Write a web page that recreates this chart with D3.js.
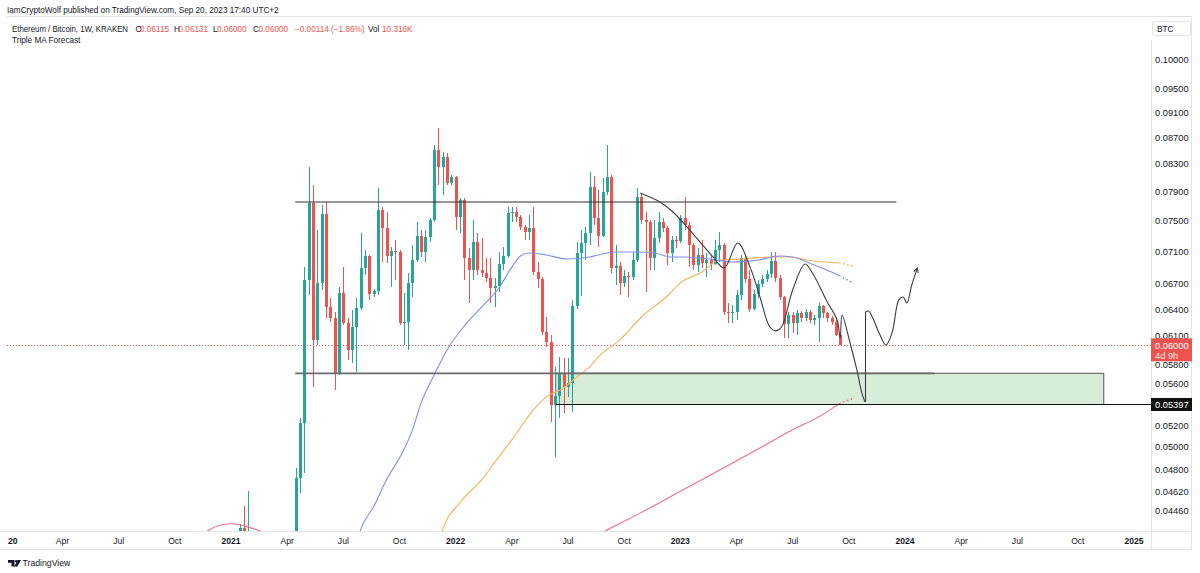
<!DOCTYPE html>
<html><head><meta charset="utf-8">
<script src="https://cdn.jsdelivr.net/npm/d3@7"></script>
<style>
html,body{margin:0;padding:0;background:#fff;}
svg{display:block;font-family:"Liberation Sans",Arial,sans-serif;}
</style></head><body>
<svg id="chart" width="1200" height="573"></svg>
<script>
// ---------------- DATA ----------------
const firstWeek = "2021-01-18"; // weekly candles (Monday open), consecutive
const openP = [
0.0395,0.0433,0.0402,0.0420,0.0395,0.0352,0.0320,0.0330,0.0310,0.0305,
0.0300,0.0350,0.0355,0.0370,0.04732,0.05222,0.06745,0.07741,0.06058,0.06709,
0.07590,0.06426,0.06300,0.05710,0.06589,0.06245,0.05951,0.06200,0.06415,0.06890,
0.07041,0.06578,0.06613,0.07645,0.07401,0.07041,0.07104,0.07092,0.06245,0.06257,
0.06709,0.06990,0.07297,0.07092,0.07284,0.07509,0.08512,0.08256,0.08405,0.08024,
0.08110,0.07549,0.07783,0.07015,0.06866,0.07219,0.06866,0.06829,0.06768,0.06648,
0.06672,0.06940,0.07041,0.07604,0.07618,0.07549,0.07415,0.07350,0.07401,0.06841,
0.06755,0.06146,0.06036,0.05392,0.05481,0.05710,0.05569,0.05610,0.06438,0.07079,
0.07206,0.07336,0.07966,0.07536,0.07297,0.07896,0.08110,0.06890,0.06915,0.06709,
0.06792,0.06781,0.06990,0.07820,0.07509,0.07482,0.07015,0.07270,0.07482,0.07401,
0.07079,0.07245,0.07232,0.07536,0.07442,0.07180,0.06927,0.07053,0.06952,0.06990,
0.06940,0.07117,0.07180,0.06369,0.06358,0.06369,0.06566,0.07015,0.06755,0.06403,
0.06578,0.06697,0.06755,0.06817,0.06977,0.06768,0.06542,0.06234,0.06335,0.06245,
0.06358,0.06300,0.06369,0.06279,0.06300,0.06438,0.06358,0.06300,0.06257,0.06115];
const highP = [
0.0436,0.0450,0.0462,0.0428,0.0405,0.0365,0.0345,0.0340,0.0325,0.0315,
0.0360,0.0360,0.0375,0.04818,0.05269,0.06902,0.08256,0.07995,0.07376,0.07713,
0.07755,0.06530,0.06369,0.06660,0.06902,0.06300,0.06392,0.06530,0.07336,0.07117,
0.07053,0.06636,0.07951,0.07685,0.07618,0.07154,0.07245,0.07117,0.06589,0.06829,
0.07180,0.07482,0.07376,0.07376,0.07536,0.08588,0.08854,0.08482,0.08466,0.08139,
0.08125,0.07811,0.07811,0.07141,0.07509,0.07336,0.07270,0.07015,0.07015,0.06768,
0.07092,0.07154,0.07685,0.07685,0.07685,0.07577,0.07442,0.07577,0.07685,0.06965,
0.06781,0.06312,0.06113,0.05772,0.05876,0.05865,0.05865,0.06508,0.07219,0.07376,
0.07415,0.08184,0.08125,0.07924,0.08095,0.08588,0.08139,0.07180,0.06965,0.06866,
0.06841,0.07092,0.07951,0.07881,0.07618,0.07509,0.07509,0.07618,0.07536,0.07428,
0.07297,0.07297,0.07577,0.07825,0.07482,0.07206,0.07141,0.07245,0.07079,0.07053,
0.07245,0.07350,0.07206,0.06473,0.06450,0.06625,0.07053,0.07041,0.06866,0.06625,
0.06745,0.06805,0.06866,0.07092,0.07092,0.06805,0.06554,0.06369,0.06369,0.06392,
0.06381,0.06403,0.06392,0.06335,0.06473,0.06450,0.06369,0.06324,0.06279,0.06131];
const lowP = [
0.0375,0.0395,0.0398,0.0375,0.0345,0.0310,0.0300,0.0300,0.0300,0.0295,
0.0298,0.0335,0.0340,0.0365,0.04607,0.04775,0.06566,0.05569,0.06004,0.06625,
0.06300,0.06257,0.05540,0.05690,0.06223,0.05845,0.05814,0.05720,0.06392,0.06805,
0.06508,0.06542,0.06566,0.06965,0.06952,0.06660,0.06745,0.06223,0.06004,0.05951,
0.06542,0.06965,0.07028,0.06965,0.07219,0.07482,0.07995,0.07853,0.07995,0.07995,
0.07376,0.07336,0.06745,0.06473,0.06745,0.06805,0.06781,0.06721,0.06473,0.06426,
0.06601,0.06866,0.07015,0.07482,0.07482,0.07376,0.07245,0.07245,0.06805,0.06648,
0.06113,0.05982,0.05231,0.04914,0.05268,0.05316,0.05471,0.05326,0.06400,0.06554,
0.06990,0.07180,0.07442,0.07154,0.07284,0.07853,0.06829,0.06685,0.06566,0.06660,
0.06542,0.06745,0.06965,0.07455,0.06601,0.06866,0.06866,0.07206,0.07350,0.06927,
0.06965,0.07141,0.07206,0.07376,0.06902,0.06866,0.06841,0.06890,0.06781,0.06866,
0.06927,0.06965,0.06335,0.06245,0.06245,0.06279,0.06508,0.06709,0.06369,0.06392,
0.06530,0.06660,0.06721,0.06768,0.06721,0.06508,0.06080,0.06080,0.06135,0.06113,
0.06257,0.06268,0.06245,0.06223,0.06036,0.06300,0.06257,0.06223,0.06102,0.06000];
const closeP = [
0.0433,0.0402,0.0420,0.0395,0.0352,0.0320,0.0330,0.0310,0.0305,0.0300,
0.0350,0.0355,0.0370,0.04732,0.05222,0.06745,0.07741,0.06058,0.06709,0.07590,
0.06426,0.06300,0.05710,0.06589,0.06245,0.05951,0.06200,0.06415,0.06890,0.07041,
0.06578,0.06613,0.07645,0.07401,0.07041,0.07104,0.07092,0.06245,0.06257,0.06709,
0.06990,0.07297,0.07092,0.07284,0.07509,0.08512,0.08256,0.08405,0.08024,0.08110,
0.07549,0.07783,0.07015,0.06866,0.07219,0.06866,0.06829,0.06768,0.06648,0.06672,
0.06940,0.07041,0.07604,0.07618,0.07549,0.07415,0.07350,0.07401,0.06841,0.06755,
0.06146,0.06036,0.05392,0.05481,0.05710,0.05569,0.05610,0.06438,0.07079,0.07206,
0.07336,0.07966,0.07536,0.07297,0.07896,0.08110,0.06890,0.06915,0.06709,0.06792,
0.06781,0.06990,0.07820,0.07509,0.07482,0.07015,0.07270,0.07482,0.07401,0.07079,
0.07245,0.07232,0.07536,0.07442,0.07180,0.06927,0.07053,0.06952,0.06990,0.06940,
0.07117,0.07180,0.06369,0.06358,0.06369,0.06566,0.07015,0.06755,0.06403,0.06578,
0.06697,0.06755,0.06817,0.06977,0.06768,0.06542,0.06234,0.06335,0.06245,0.06358,
0.06300,0.06369,0.06279,0.06300,0.06438,0.06358,0.06300,0.06257,0.06115,0.06000];

// moving averages
const maBlue = [["2021-07-26",0.04197],["2021-08-02",0.04312],["2021-08-23",0.04493],["2021-09-13",0.04716],["2021-10-11",0.04976],["2021-10-25",0.05157],["2021-11-08",0.05412],["2021-11-29",0.05690],["2021-12-20",0.05951],["2022-01-17",0.06212],["2022-02-14",0.06426],["2022-03-14",0.06648],["2022-04-04",0.06902],["2022-04-18",0.07041],["2022-05-02",0.07079],["2022-05-30",0.07053],["2022-07-04",0.07002],["2022-08-08",0.07028],["2022-08-22",0.07053],["2022-09-19",0.07092],["2022-10-17",0.07092],["2022-11-21",0.07079],["2022-12-19",0.07028],["2023-01-09",0.07028],["2023-02-20",0.07002],["2023-03-27",0.06965],["2023-05-08",0.06990],["2023-06-12",0.07041],["2023-07-03",0.07028],["2023-08-07",0.06927],["2023-09-04",0.06841],["2023-09-18",0.06792]];
const maBlueProj = [["2023-09-18",0.06792],["2023-10-09",0.06709]];
const maOrange = [["2021-12-06",0.04197],["2021-12-13",0.04312],["2022-01-10",0.04526],["2022-02-14",0.04716],["2022-03-14",0.04914],["2022-04-04",0.05065],["2022-05-09",0.05345],["2022-05-30",0.05471],["2022-06-27",0.05559],["2022-07-18",0.05669],["2022-08-08",0.05772],["2022-08-22",0.05876],["2022-09-26",0.06058],["2022-10-31",0.06312],["2022-12-12",0.06554],["2023-01-02",0.06709],["2023-02-06",0.06841],["2023-03-06",0.06990],["2023-04-10",0.07002],["2023-05-29",0.07028],["2023-06-26",0.07028],["2023-08-07",0.06977],["2023-09-18",0.06952]];
const maOrangeProj = [["2023-09-18",0.06952],["2023-10-09",0.06915]];
const maPink = [["2020-11-16",0.04266],["2020-11-30",0.04312],["2020-12-14",0.04343],["2021-01-04",0.04359],["2021-01-25",0.04343],["2021-02-15",0.04312],["2021-03-08",0.04273],["2021-10-11",0.0405],["2022-05-09",0.0410],["2022-08-22",0.04273],["2022-09-12",0.04328],["2022-10-31",0.04449],["2023-01-02",0.04620],["2023-03-06",0.04798],["2023-05-08",0.04984],["2023-07-10",0.05180],["2023-08-07",0.05255],["2023-09-18",0.05410]];
const maPinkProj = [["2023-09-18",0.05410],["2023-10-09",0.05456]];

// drawings
const forecastA = [["2022-10-29",0.07881],["2022-11-30",0.07755],["2022-12-21",0.07618],["2023-01-13",0.07415],["2023-02-03",0.07219],["2023-02-24",0.07028],["2023-03-14",0.06890],["2023-04-05",0.07206],["2023-04-25",0.06902],["2023-05-11",0.06542],["2023-05-27",0.06200],["2023-06-06",0.06157],["2023-06-15",0.06200],["2023-07-03",0.06625],["2023-07-23",0.06940],["2023-08-04",0.06829],["2023-08-28",0.06485],["2023-09-13",0.06279],["2023-09-18",0.06080],["2023-09-21",0.06335],["2023-10-04",0.06025],["2023-10-15",0.05741],["2023-10-23",0.05510],["2023-10-28",0.05422]];
const forecastB = [["2023-10-29",0.05422],["2023-10-29",0.06369]];
const forecastC = [["2023-10-29",0.06369],["2023-11-03",0.06380],["2023-11-09",0.06312],["2023-11-20",0.06135],["2023-12-01",0.06004],["2023-12-11",0.06135],["2023-12-22",0.06508],["2023-12-29",0.06542],["2024-01-04",0.06473],["2024-01-12",0.06685],["2024-01-21",0.06890]];
const resistance = {from:"2021-04-18", to:"2023-12-18", price:0.07755};
const support = {from:"2021-04-18", to:"2024-02-18", price:0.05707};
const zone = {from:"2022-06-14", to:"2024-11-18", top:0.05707, bottom:0.05397};
const levelRay = {from:"2022-06-14", price:0.05397};
const lastPrice = 0.06000;
const priceTicks = [0.10000,0.09500,0.09100,0.08700,0.08300,0.07900,0.07500,0.07100,0.06700,0.06400,0.06100,0.05800,0.05600,0.05200,0.05000,0.04800,0.04620,0.04460];
const tickYears = [2020,2021,2022,2023,2024,2025];
const tickMonths = [0,3,6,9];

// ---------------- CHART ----------------
const P = d3.utcParse("%Y-%m-%d");
const svg = d3.select("#chart");
const paneL = 7, paneR = 1151, paneT = 17, paneB = 531;
const x = d3.scaleUtc().domain([P("2021-01-04"), P("2025-01-06")]).range([231, 1134]);
const y = d3.scaleLog().domain([0.1, 0.0446]).range([60, 511]);
const GREEN = "#26a69a", RED = "#ef5350", TXT = "#131722";

const defs = svg.append("defs");
defs.append("clipPath").attr("id","pane").append("rect")
  .attr("x",paneL).attr("y",paneT).attr("width",paneR-paneL).attr("height",paneB-paneT);

// frame
const frame = svg.append("g").attr("stroke","#e0e3eb").attr("stroke-width",1).attr("fill","none");
frame.append("line").attr("x1",paneL).attr("x2",1192).attr("y1",16.5).attr("y2",16.5);
frame.append("line").attr("x1",1191.5).attr("x2",1191.5).attr("y1",16.5).attr("y2",549.5);
frame.append("line").attr("x1",0).attr("x2",1192).attr("y1",paneB+0.5).attr("y2",paneB+0.5);
frame.append("line").attr("x1",0).attr("x2",1192).attr("y1",549.5).attr("y2",549.5);
frame.append("line").attr("x1",paneR+0.5).attr("x2",paneR+0.5).attr("y1",40).attr("y2",549.5);

const pane = svg.append("g").attr("clip-path","url(#pane)");

// zone box
pane.append("rect")
  .attr("x",x(P(zone.from))).attr("y",y(zone.top))
  .attr("width",x(P(zone.to))-x(P(zone.from))).attr("height",y(zone.bottom)-y(zone.top))
  .attr("fill","#d7edd8").attr("stroke","#555").attr("stroke-width",1);

// current price dotted line
pane.append("line").attr("x1",paneL).attr("x2",paneR)
  .attr("y1",Math.round(y(lastPrice))+0.5).attr("y2",Math.round(y(lastPrice))+0.5)
  .attr("stroke",RED).attr("stroke-width",1).attr("stroke-dasharray","1,2");

// candles
const candles = closeP.map((c,i)=>({date:d3.utcDay.offset(P(firstWeek),7*i),o:openP[i],h:highP[i],l:lowP[i],c}));
const cg = pane.append("g").attr("shape-rendering","crispEdges");
candles.forEach(d=>{
  const cx = Math.round(x(d.date));
  const col = d.c >= d.o ? GREEN : RED;
  cg.append("line").attr("x1",cx+0.5).attr("x2",cx+0.5).attr("y1",y(d.h)).attr("y2",y(d.l))
    .attr("stroke",col).attr("stroke-width",1);
  const top = y(Math.max(d.o,d.c)), bot = y(Math.min(d.o,d.c));
  cg.append("rect").attr("x",cx-1).attr("width",3).attr("y",top).attr("height",Math.max(1,bot-top)).attr("fill",col);
});

// MAs
const maLine = d3.line().x(d=>x(P(d[0]))).y(d=>y(d[1])).curve(d3.curveMonotoneX);
const mas = [[maPink,maPinkProj,"#ee6d8c"],[maOrange,maOrangeProj,"#f6b15a"],[maBlue,maBlueProj,"#7f8ff0"]];
mas.forEach(([m,pr,col])=>{
  pane.append("path").attr("d",maLine(m)).attr("fill","none").attr("stroke",col).attr("stroke-width",1.1);
  pane.append("path").attr("d",d3.line().x(d=>x(P(d[0]))).y(d=>y(d[1]))(pr)).attr("fill","none")
    .attr("stroke",col).attr("stroke-width",1.6).attr("stroke-dasharray","1.5,2.6").attr("stroke-dashoffset",-3);
});

// horizontal drawings
pane.append("line").attr("x1",x(P(resistance.from))).attr("x2",x(P(resistance.to)))
  .attr("y1",y(resistance.price)).attr("y2",y(resistance.price)).attr("stroke","#2f2f2f").attr("stroke-width",1);
pane.append("line").attr("x1",x(P(support.from))).attr("x2",x(P(support.to)))
  .attr("y1",y(support.price)).attr("y2",y(support.price)).attr("stroke","#6a6a6a").attr("stroke-width",1.8);
pane.append("line").attr("x1",x(P(levelRay.from))).attr("x2",paneR)
  .attr("y1",Math.round(y(levelRay.price))+0.5).attr("y2",Math.round(y(levelRay.price))+0.5).attr("stroke","#111").attr("stroke-width",1);

// forecast path
const fLine = d3.line().x(d=>x(P(d[0]))).y(d=>y(d[1])).curve(d3.curveCatmullRom.alpha(0.5));
[forecastA,forecastB,forecastC].forEach(f=>{
  pane.append("path").attr("d",fLine(f)).attr("fill","none").attr("stroke","#3d3d3d").attr("stroke-width",1.1);
});
// arrow head
{
  const a = forecastC[forecastC.length-2], b = forecastC[forecastC.length-1];
  const x1=x(P(a[0])), y1=y(a[1]), x2=x(P(b[0])), y2=y(b[1]);
  const ang = Math.atan2(y2-y1,x2-x1), L=5;
  const pts = [[x2-L*Math.cos(ang-0.5),y2-L*Math.sin(ang-0.5)],[x2,y2],[x2-L*Math.cos(ang+0.5),y2-L*Math.sin(ang+0.5)]];
  pane.append("path").attr("d",d3.line()(pts)).attr("fill","none").attr("stroke","#3d3d3d").attr("stroke-width",1.1);
}

// price axis
const pa = svg.append("g").attr("font-size",9.3).attr("fill",TXT);
priceTicks.forEach(v=>{
  pa.append("text").attr("x",1155).attr("y",y(v)).attr("dy","0.35em").text(v.toFixed(5));
});
// BTC box
svg.append("rect").attr("x",1152.5).attr("y",21.5).attr("width",38).attr("height",14).attr("rx",2)
  .attr("fill","#fff").attr("stroke","#e0e3eb");
svg.append("text").attr("x",1157).attr("y",31.5).attr("font-size",8.3).attr("fill",TXT).text("BTC");
// last price label
{
  const yy = y(lastPrice);
  svg.append("rect").attr("x",1151).attr("y",yy-7).attr("width",41).attr("height",23).attr("fill",RED);
  svg.append("text").attr("x",1155).attr("y",yy).attr("dy","0.35em").attr("font-size",9.3).attr("fill","#fff").text(lastPrice.toFixed(5));
  svg.append("text").attr("x",1155).attr("y",yy+10).attr("dy","0.35em").attr("font-size",9.3).attr("fill","#fde3e3").text("4d 9h");
  const yl = y(levelRay.price);
  svg.append("rect").attr("x",1151).attr("y",yl-6.5).attr("width",41).attr("height",13).attr("fill","#111");
  svg.append("text").attr("x",1155).attr("y",yl).attr("dy","0.35em").attr("font-size",9.3).attr("fill","#fff").text(levelRay.price.toFixed(5));
}

// time axis (first year label is partly hidden by the pane's left edge: only "20" shows)
const ta = svg.append("g").attr("fill",TXT);
const fmtM = d3.utcFormat("%b");
tickYears.forEach(yr=>tickMonths.forEach(m=>{
  if (yr===2025 && m>0) return;
  const d = d3.utcMonday.ceil(new Date(Date.UTC(yr,m,1)));
  const px = x(d);
  const t = ta.append("text").attr("y",544).attr("font-size",8.6);
  if (px < paneL + 12) {
    t.attr("x",paneL + 1).attr("font-weight","bold").text(String(yr).slice(2));
  } else {
    t.attr("x",px).attr("text-anchor","middle");
    if (m===0) t.attr("font-weight","bold").text(yr); else t.text(fmtM(d));
  }
}));

// header
const hdr = svg.append("g").attr("fill",TXT);
hdr.append("text").attr("x",7).attr("y",12.5).attr("font-size",8.2)
  .text("IamCryptoWolf published on TradingView.com, Sep 20, 2023 17:40 UTC+2");
const seg = [[12,"Ethereum / Bitcoin, 1W, KRAKEN",TXT,116],[135.5,"O",TXT],[140,"0.06115",RED],[174,"H",TXT],[178.5,"0.06131",RED],
  [213,"L",TXT],[217,"0.06000",RED],[253,"C",TXT],[258.5,"0.06000",RED],[295,"\u22120.00114 (\u22121.86%)",RED],[368,"Vol",TXT],[382,"10.316K",RED]];
seg.forEach(s=>{
  const t = hdr.append("text").attr("x",s[0]).attr("y",31.5).attr("font-size",8.2).attr("fill",s[2]).text(s[1]);
  if (s[3]) t.attr("textLength",s[3]).attr("lengthAdjust","spacingAndGlyphs");
});
hdr.append("text").attr("x",12).attr("y",42.5).attr("font-size",8.2).text("Triple MA Forecast");

// footer logo
const lg = svg.append("g").attr("fill",TXT);
lg.append("path").attr("d","M8,560 h6.5 v6.5 h-3 v-3.7 h-3.5z");
lg.append("circle").attr("cx",16.3).attr("cy",561.3).attr("r",1.3);
lg.append("path").attr("d","M17.8,560 h3.2 l-3.6,6.5 h-3.2z");
lg.append("text").attr("x",22.5).attr("y",566).attr("font-size",8.7).text("TradingView");
</script>
</body></html>
